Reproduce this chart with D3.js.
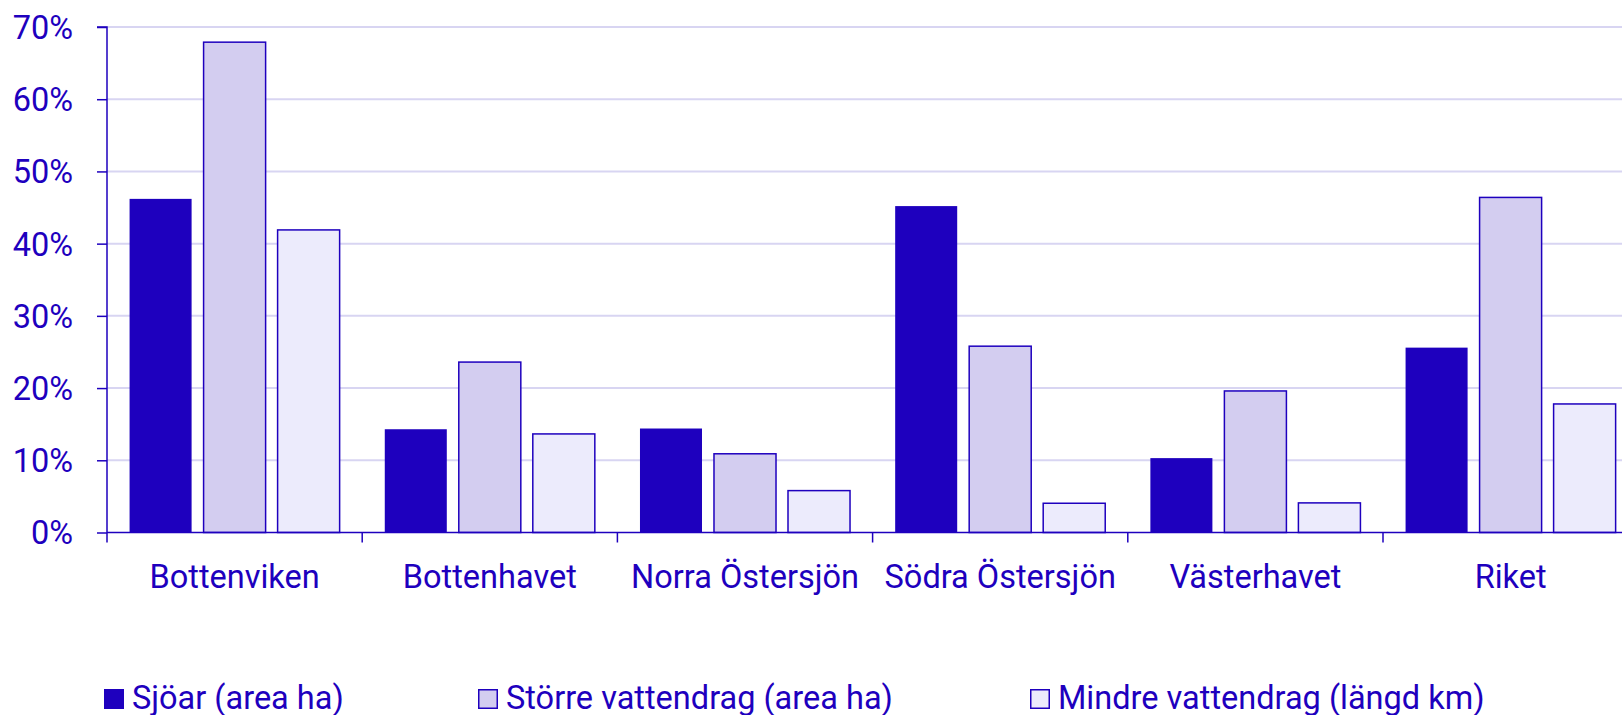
<!DOCTYPE html>
<html>
<head>
<meta charset="utf-8">
<script src="https://cdn.jsdelivr.net/npm/d3@7"></script>
<style>
  html, body { margin: 0; padding: 0; background: #fff; }
  svg { display: block; }
  text { font-family: Roboto, "Noto Sans", sans-serif; }
</style>
</head>
<body>
<svg id="chart" width="1622" height="715"></svg>
<script>
const categories = ["Bottenviken", "Bottenhavet", "Norra Östersjön", "Södra Östersjön", "Västerhavet", "Riket"];
const seriesNames = ["Sjöar (area ha)", "Större vattendrag (area ha)", "Mindre vattendrag (längd km)"];
const sjoar   = [46.2, 14.3, 14.4, 45.2, 10.3, 25.6];
const storre  = [67.9, 23.6, 10.9, 25.8, 19.6, 46.4];
const mindre  = [41.9, 13.65, 5.8, 4.05, 4.1, 17.8];
const yTicks = [0, 10, 20, 30, 40, 50, 60, 70];

const seriesValues = [sjoar, storre, mindre];
const fills = ["#1e00be", "#d3cdf0", "#ecebfc"];
const ink = "#1e00be";
const gridColor = "#d8d5f2";
const fs = 32.5;

const svg = d3.select("#chart");
const x0 = 107, yBase = 532.5, yTop = 27;
const bandW = (1383 - 107) / 5;

const x = d3.scaleBand().domain(categories).range([x0, x0 + bandW * 6]).padding(0);
const xs = d3.scaleBand().domain(d3.range(3)).range([0, bandW]).paddingInner(0.162).paddingOuter(0.305);
const y = d3.scaleLinear().domain([0, 70]).range([yBase, yTop]);

// gridlines
svg.append("g").selectAll("line").data(yTicks.filter(d => d > 0)).join("line")
  .attr("x1", x0).attr("x2", 1622)
  .attr("y1", d => y(d)).attr("y2", d => y(d))
  .attr("stroke", gridColor).attr("stroke-width", 2);

// bars
const rows = categories.map((c, i) => ({ c, vals: seriesValues.map(s => s[i]) }));
const g = svg.append("g");
g.selectAll("g").data(rows).join("g")
  .attr("transform", d => `translate(${x(d.c)},0)`)
  .selectAll("rect").data(d => d.vals.map((v, k) => ({ v, k }))).join("rect")
  .attr("x", d => xs(d.k)).attr("width", xs.bandwidth())
  .attr("y", d => y(d.v)).attr("height", d => yBase - y(d.v))
  .attr("fill", d => fills[d.k])
  .attr("stroke", ink).attr("stroke-width", d => d.k === 0 ? 0 : 1.5);

// y axis
const yAxis = svg.append("g").attr("transform", `translate(${x0},0)`)
  .call(d3.axisLeft(y).tickValues(yTicks).tickFormat(d => d + "%").tickSize(10).tickPadding(24));
yAxis.select(".domain").attr("stroke", ink).attr("stroke-width", 1.5)
  .attr("d", `M-10,${yTop}H0V${yBase + 10}`);
yAxis.selectAll(".tick line").attr("stroke", ink).attr("stroke-width", 1.5);
yAxis.selectAll(".tick text").attr("fill", ink).attr("font-size", fs)
  .attr("font-family", "Roboto").attr("dy", "0.35em");

// x axis
const xAxis = svg.append("g").attr("transform", `translate(0,${yBase})`)
  .call(d3.axisBottom(x).tickSize(0).tickPadding(0));
xAxis.select(".domain").attr("stroke", ink).attr("stroke-width", 1.5)
  .attr("d", `M${x0},0H1622`);
xAxis.selectAll(".tick text").attr("fill", ink).attr("font-size", fs)
  .attr("font-family", "Roboto").attr("y", 55).attr("dy", 0);
// category separator ticks
svg.append("g").selectAll("line").data(categories.slice(1)).join("line")
  .attr("x1", d => x(d)).attr("x2", d => x(d))
  .attr("y1", yBase).attr("y2", yBase + 10)
  .attr("stroke", ink).attr("stroke-width", 1.5);

// legend
const legendX = [104, 478, 1030];
const lg = svg.append("g");
seriesNames.forEach((name, k) => {
  lg.append("rect").attr("x", legendX[k] + 0.75).attr("y", 689.75)
    .attr("width", 18.5).attr("height", 18.5)
    .attr("fill", fills[k]).attr("stroke", ink).attr("stroke-width", 1.5);
  lg.append("text").attr("x", legendX[k] + 28).attr("y", 709)
    .attr("fill", ink).attr("font-size", fs).text(name);
});
</script>
</body>
</html>
